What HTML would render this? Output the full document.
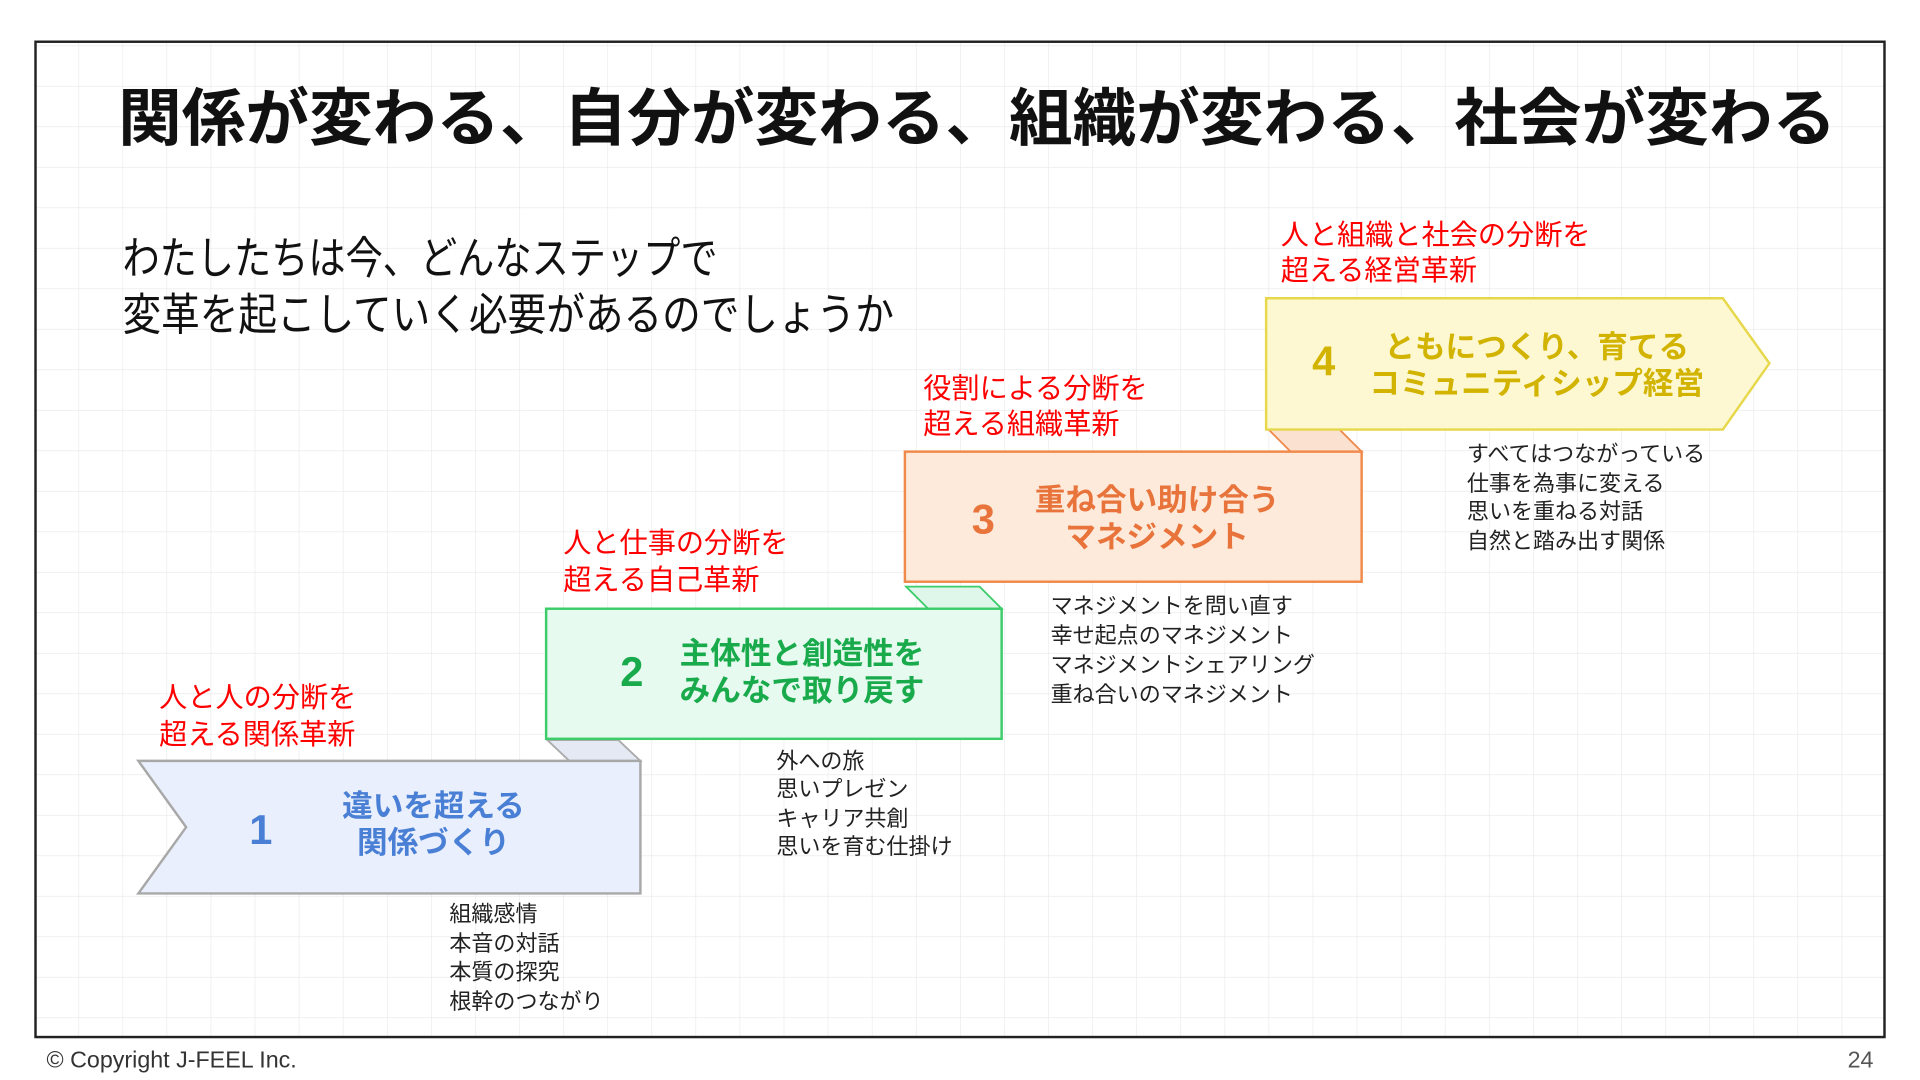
<!DOCTYPE html>
<html><head><meta charset="utf-8"><style>
html,body{margin:0;padding:0;background:#fff;width:1920px;height:1080px;overflow:hidden}
svg{display:block}
text{font-family:"Liberation Sans","Noto Sans CJK JP",sans-serif}
</style></head><body>
<svg width="1920" height="1080" viewBox="0 0 1568 880" preserveAspectRatio="none" xmlns="http://www.w3.org/2000/svg">
<defs>
<pattern id="g" x="28" y="4" width="36" height="33" patternUnits="userSpaceOnUse">
<path d="M0 0V33M0 0H36" stroke="#e8e8e8" stroke-width="1" fill="none"/>
</pattern>
</defs>
<rect x="29" y="34" width="1510" height="811" fill="url(#g)" stroke="#222" stroke-width="2"/>
<text x="798" y="97" font-size="51" font-weight="bold" text-anchor="middle" dominant-baseline="central" fill="#111" textLength="1403" lengthAdjust="spacingAndGlyphs">関係が変わる、自分が変わる、組織が変わる、社会が変わる</text>
<text x="100" y="211" font-size="36" dominant-baseline="central" fill="#111" textLength="486" lengthAdjust="spacingAndGlyphs">わたしたちは今、どんなステップで</text>
<text x="100" y="257" font-size="36" dominant-baseline="central" fill="#111" textLength="630" lengthAdjust="spacingAndGlyphs">変革を起こしていく必要があるのでしょうか</text>

<!-- Box 1 -->
<polygon points="447,603 505,603 523,620 465,620" fill="#e4e9f4" stroke="#aaa" stroke-width="1.5"/>
<polygon points="113,620 523,620 523,728 113,728 152,674" fill="#e9effc" stroke="#a8a8a8" stroke-width="2"/>
<text x="213" y="676" font-size="34" font-weight="bold" fill="#4a7fd6" text-anchor="middle" dominant-baseline="central">1</text>
<text x="354" y="657" font-size="25" font-weight="bold" fill="#4a7fd6" text-anchor="middle" dominant-baseline="central">違いを超える</text>
<text x="354" y="687" font-size="25" font-weight="bold" fill="#4a7fd6" text-anchor="middle" dominant-baseline="central">関係づくり</text>
<text x="130" y="568" font-size="23" fill="#f00" dominant-baseline="central">人と人の分断を</text>
<text x="130" y="598" font-size="23" fill="#f00" dominant-baseline="central">超える関係革新</text>
<g font-size="18" fill="#222">
<text x="367" y="751">組織感情</text><text x="367" y="775">本音の対話</text><text x="367" y="798">本質の探究</text><text x="367" y="822">根幹のつながり</text>
</g>

<!-- Box 2 -->
<polygon points="740,478 800,478 818,496 758,496" fill="#dff7ea" stroke="#3ccc6a" stroke-width="1.5"/>
<rect x="446" y="496" width="372" height="106" fill="#e6faef" stroke="#3ccc6a" stroke-width="2"/>
<text x="516" y="547" font-size="34" font-weight="bold" fill="#19aa4c" text-anchor="middle" dominant-baseline="central">2</text>
<text x="655" y="533" font-size="25" font-weight="bold" fill="#19aa4c" text-anchor="middle" dominant-baseline="central">主体性と創造性を</text>
<text x="655" y="563" font-size="25" font-weight="bold" fill="#19aa4c" text-anchor="middle" dominant-baseline="central">みんなで取り戻す</text>
<text x="460" y="442" font-size="23" fill="#f00" dominant-baseline="central">人と仕事の分断を</text>
<text x="460" y="472" font-size="23" fill="#f00" dominant-baseline="central">超える自己革新</text>
<g font-size="18" fill="#222">
<text x="634" y="626">外への旅</text><text x="634" y="649">思いプレゼン</text><text x="634" y="673">キャリア共創</text><text x="634" y="696">思いを育む仕掛け</text>
</g>

<!-- Box 3 -->
<polygon points="1036,350 1094,350 1112,368 1054,368" fill="#fbe2d0" stroke="#f08a4b" stroke-width="1.5"/>
<rect x="739" y="368" width="373" height="106" fill="#fdeadb" stroke="#f08a4b" stroke-width="2"/>
<text x="803" y="423" font-size="34" font-weight="bold" fill="#e8743b" text-anchor="middle" dominant-baseline="central">3</text>
<text x="945" y="408" font-size="25" font-weight="bold" fill="#e8743b" text-anchor="middle" dominant-baseline="central">重ね合い助け合う</text>
<text x="945" y="438" font-size="25" font-weight="bold" fill="#e8743b" text-anchor="middle" dominant-baseline="central">マネジメント</text>
<text x="754" y="316" font-size="23" fill="#f00" dominant-baseline="central">役割による分断を</text>
<text x="754" y="345" font-size="23" fill="#f00" dominant-baseline="central">超える組織革新</text>
<g font-size="18" fill="#222">
<text x="858" y="500">マネジメントを問い直す</text><text x="858" y="524">幸せ起点のマネジメント</text><text x="858" y="548">マネジメントシェアリング</text><text x="858" y="572">重ね合いのマネジメント</text>
</g>

<!-- Box 4 -->
<polygon points="1034,243 1407,243 1445,296 1407,350 1034,350" fill="#fdf8d2" stroke="#e6d84a" stroke-width="2"/>
<text x="1081" y="294" font-size="34" font-weight="bold" fill="#d2b300" text-anchor="middle" dominant-baseline="central">4</text>
<text x="1255" y="283" font-size="25" font-weight="bold" fill="#d2b300" text-anchor="middle" dominant-baseline="central">ともにつくり、育てる</text>
<text x="1255" y="313" font-size="25" font-weight="bold" fill="#d2b300" text-anchor="middle" dominant-baseline="central">コミュニティシップ経営</text>
<text x="1046" y="191" font-size="23" fill="#f00" dominant-baseline="central">人と組織と社会の分断を</text>
<text x="1046" y="220" font-size="23" fill="#f00" dominant-baseline="central">超える経営革新</text>
<g font-size="18" fill="#222">
<text x="1198" y="376">すべてはつながっている</text><text x="1198" y="400">仕事を為事に変える</text><text x="1198" y="423">思いを重ねる対話</text><text x="1198" y="447">自然と踏み出す関係</text>
</g>

<text x="38" y="870" font-size="19" fill="#333">© Copyright J-FEEL Inc.</text>
<text x="1530" y="870" font-size="19" fill="#555" text-anchor="end">24</text>
</svg>
</body></html>
